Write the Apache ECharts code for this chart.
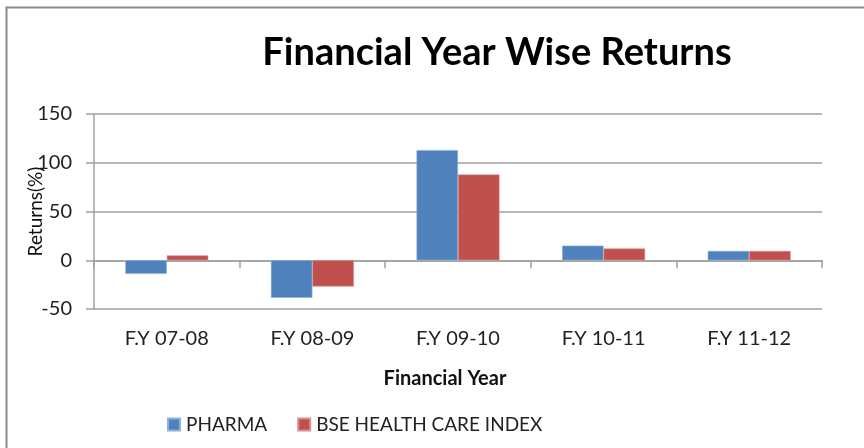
<!DOCTYPE html>
<html>
<head>
<meta charset="utf-8">
<script src="https://cdn.jsdelivr.net/npm/echarts@6/dist/echarts.min.js"></script>
<style>
html,body{margin:0;padding:0;background:#fff;}
#chart{width:864px;height:448px;}
</style>
</head>
<body>
<div id="chart"></div>
<script>
var categories = ["F.Y 07-08", "F.Y 08-09", "F.Y 09-10", "F.Y 10-11", "F.Y 11-12"];
var pharma = [-14, -38.5, 113, 15, 9.5];
var bseHealth = [5, -27, 88, 12, 9.5];
var yTicks = {min: -50, max: 150, interval: 50};

var chart = echarts.init(document.getElementById('chart'));
chart.setOption({
  animation: false,
  backgroundColor: '#fff',
  textStyle: {fontFamily: 'Lato'},
  graphic: [{
    type: 'rect', left: 4, top: 5, shape: {x: 0, y: 0, width: 880, height: 460},
    style: {fill: 'none', stroke: '#8a8a8a', lineWidth: 2}, silent: true, z: -1
  }],
  title: {
    text: 'Financial Year Wise Returns',
    left: 492, top: 29, textAlign: 'center',
    textStyle: {fontFamily: 'Lato', fontWeight: 'bold', fontSize: 38, color: '#000'}
  },
  legend: {
    data: ['PHARMA', 'BSE HEALTH CARE INDEX'],
    left: 162, top: 410,
    icon: 'rect', itemWidth: 12, itemHeight: 12, itemGap: 30,
    textStyle: {fontFamily: 'Lato', fontSize: 19, color: '#222', padding: [0, 0, 0, 1]}
  },
  grid: {left: 94, right: 42, top: 114, bottom: 139, containLabel: false},
  xAxis: {
    type: 'category', data: categories,
    axisLine: {onZero: true, lineStyle: {color: '#a0a0a0', width: 1.5}},
    axisTick: {show: true, length: 8, lineStyle: {color: '#a0a0a0', width: 1.5}},
    axisLabel: {margin: 20, fontFamily: 'Lato', fontSize: 20, color: '#222'},
    name: 'Financial Year', nameLocation: 'middle', nameGap: 60, nameMoveOverlap: false,
    nameTextStyle: {fontFamily: 'Lato', fontWeight: 'bold', fontSize: 20, color: '#111', padding: [0, 26, 0, 0]}
  },
  yAxis: {
    type: 'value', min: yTicks.min, max: yTicks.max, interval: yTicks.interval,
    axisLine: {show: true, lineStyle: {color: '#a0a0a0', width: 1.5}},
    axisTick: {show: true, length: 8, lineStyle: {color: '#a0a0a0', width: 1.5}},
    axisLabel: {margin: 22, fontFamily: 'Lato', fontSize: 20, color: '#222'},
    splitLine: {lineStyle: {color: '#a0a0a0', width: 1.5}},
    name: 'Returns(%)', nameLocation: 'middle', nameGap: 49, nameRotate: 90, nameMoveOverlap: false,
    nameTextStyle: {fontFamily: 'Lato', fontSize: 19, color: '#111'}
  },
  series: [
    {name: 'PHARMA', type: 'bar', data: pharma, barGap: '0%', barCategoryGap: '43%',
     itemStyle: {color: '#4F81BD', borderColor: '#8fb0dc', borderWidth: 0.6}},
    {name: 'BSE HEALTH CARE INDEX', type: 'bar', data: bseHealth,
     itemStyle: {color: '#C0504D', borderColor: '#dc8f8d', borderWidth: 0.6}}
  ]
});
</script>
</body>
</html>
